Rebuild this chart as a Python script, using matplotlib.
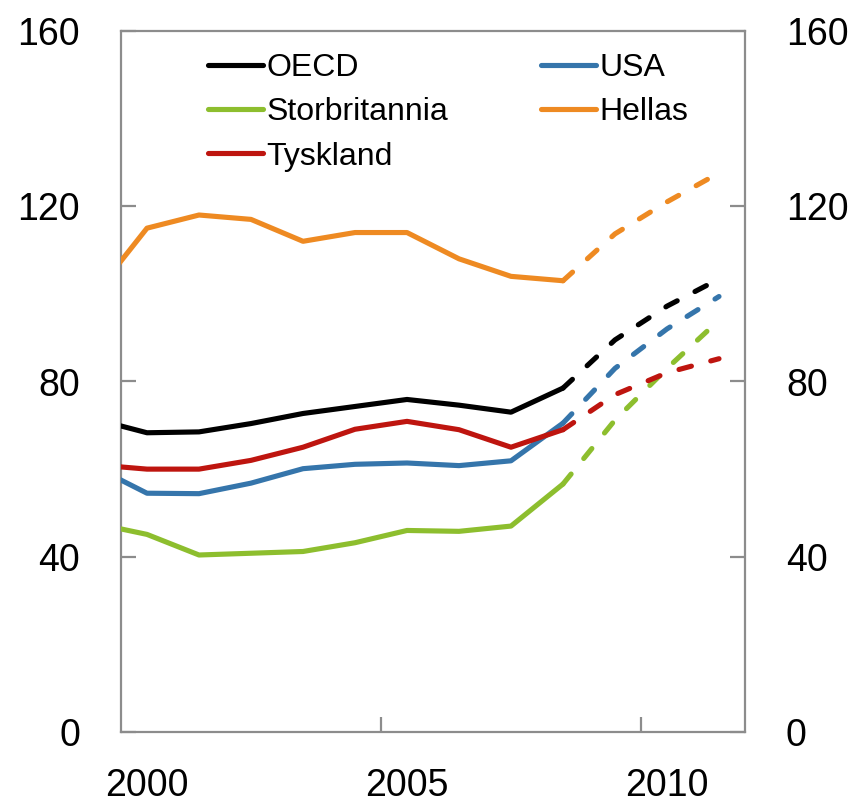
import matplotlib
matplotlib.use('Agg')
import matplotlib.pyplot as plt

plt.rcParams['font.family'] = ['Liberation Sans', 'DejaVu Sans']

# annual values, plotted at mid-year
years = [1999.5, 2000.5, 2001.5, 2002.5, 2003.5, 2004.5, 2005.5, 2006.5, 2007.5, 2008.5]
years_proj = [2008.5, 2009.5, 2010.5, 2011.5]

oecd = [71.4, 68.3, 68.5, 70.4, 72.7, 74.3, 75.9, 74.6, 73.0, 78.5]
oecd_proj = [78.5, 89.5, 97.2, 103.4]
usa = [60.5, 54.5, 54.4, 56.8, 60.1, 61.1, 61.4, 60.8, 61.9, 70.5]
usa_proj = [70.5, 83.0, 92.0, 99.4]
uk = [47.6, 45.1, 40.4, 40.8, 41.2, 43.2, 46.0, 45.8, 47.0, 56.6]
uk_proj = [56.6, 71.2, 83.0, 94.0]
hellas = [100.0, 115.0, 118.0, 117.0, 112.0, 114.0, 114.0, 108.0, 104.0, 103.0]
hellas_proj = [103.0, 113.7, 121.0, 127.6]
tyskland = [61.0, 60.0, 60.0, 62.0, 65.0, 69.1, 70.9, 69.0, 65.0, 69.0]
tyskland_proj = [69.0, 77.0, 82.0, 85.2]

names = ['OECD', 'USA', 'Storbritannia', 'Hellas', 'Tyskland']
colors = ['#000000', '#3575AB', '#8DBE2E', '#EE8A22', '#BE150F']
hist = [oecd, usa, uk, hellas, tyskland]
proj = [oecd_proj, usa_proj, uk_proj, hellas_proj, tyskland_proj]

fig = plt.figure(figsize=(8.56, 8.05), dpi=100)
ax = fig.add_axes([121/856, 1-732/805, (745-121)/856, (732-31)/805])

lw = 3.7
handles = {}
for name, col, h, p in zip(names, colors, hist, proj):
    ln, = ax.plot(years, h, color=col, lw=lw, solid_capstyle='round',
                  solid_joinstyle='round', zorder=5)
    ax.plot(years_proj, p, color=col, lw=lw, dash_capstyle='round',
            dashes=(2.5, 3.9), zorder=5)
    handles[name] = ln

ax.set_xlim(2000, 2012)
ax.set_ylim(0, 160)

grey = '#8c8c8c'
for s in ax.spines.values():
    s.set_color(grey)
    s.set_linewidth(1.6)

ax.set_yticks([0, 40, 80, 120, 160])
ax.tick_params(axis='y', which='major', direction='in', length=11, width=1.6,
               color=grey, left=True, right=True, labelleft=True, labelright=True,
               labelsize=27, pad=29.5)

ax.set_xticks([2005, 2010])
ax.set_xticklabels([])
ax.tick_params(axis='x', which='major', direction='in', length=11, width=1.6, color=grey)
ax.set_xticks([2000.5, 2005.5, 2010.5], minor=True)
ax.set_xticklabels(['2000', '2005', '2010'], minor=True)
ax.tick_params(axis='x', which='minor', length=0, labelsize=27, pad=26)

order = ['OECD', 'Storbritannia', 'Tyskland', 'USA', 'Hellas']
leg = ax.legend([handles[n] for n in order], order, ncol=2, loc='upper left',
                bbox_to_anchor=(0.139, 0.968), frameon=False, fontsize=23,
                handlelength=1.72, handletextpad=0.12, columnspacing=2.9,
                labelspacing=0.44, borderaxespad=0, borderpad=0)
for t in leg.get_lines():
    t.set_linewidth(lw)

fig.savefig('out.png', dpi=100)
